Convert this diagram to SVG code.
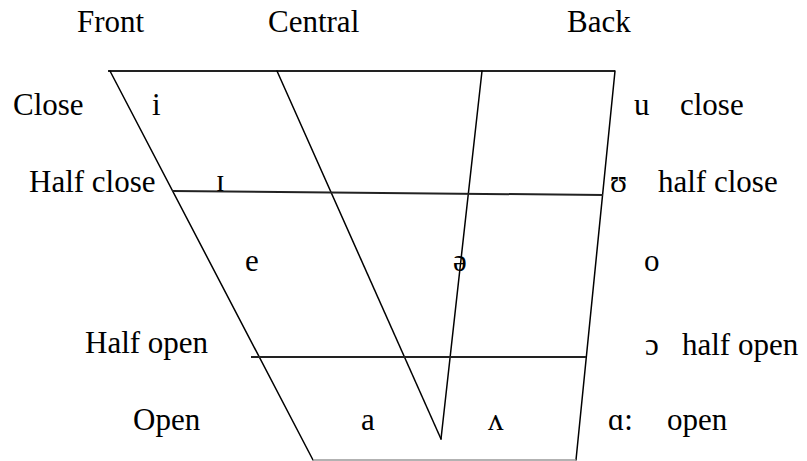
<svg xmlns="http://www.w3.org/2000/svg" width="807" height="461" viewBox="0 0 807 461">
<style>
.ln{stroke:#000;stroke-width:1.5;fill:none;stroke-linecap:round}
.hz{stroke:#222;stroke-width:2;fill:none}
.bt{stroke:#999;stroke-width:1.5;fill:none}
</style>
<rect width="807" height="461" fill="#fff"/>
<g id="connectors">
<line class="hz" x1="108" y1="71" x2="615" y2="71"/>
<line class="ln" x1="110" y1="71" x2="313" y2="460"/>
<line class="ln" x1="277" y1="71" x2="441" y2="439"/>
<line class="ln" x1="482" y1="71" x2="441" y2="439"/>
<line class="ln" x1="615" y1="71" x2="576" y2="460"/>
<line class="hz" x1="172" y1="191" x2="603" y2="195"/>
<line class="hz" x1="251" y1="357" x2="586" y2="357"/>
<line class="bt" x1="313" y1="460" x2="576" y2="460"/>
</g>
<g font-family="'Liberation Serif', 'Times New Roman', 'DejaVu Serif', serif" font-size="31" fill="#000">
<g id="headers">
<text x="77" y="32">Front</text>
<text x="268" y="32">Central</text>
<text x="567" y="32">Back</text>
</g>
<g id="row-close">
<text x="13" y="115">Close</text>
<text x="152" y="115">i</text>
<text x="634" y="115">u</text>
<text x="680" y="115">close</text>
</g>
<g id="row-half-close">
<text x="29" y="192">Half close</text>
<text x="216" y="191">ɪ</text>
<text x="610" y="192">ʊ</text>
<text x="658" y="192">half close</text>
</g>
<g id="row-mid">
<text x="245" y="271">e</text>
<text x="453" y="271">ə</text>
<text x="644" y="271">o</text>
</g>
<g id="row-half-open">
<text x="85" y="353">Half open</text>
<text x="645" y="355">ɔ</text>
<text x="682" y="355">half open</text>
</g>
<g id="row-open">
<text x="133" y="430">Open</text>
<text x="361" y="430">a</text>
<text x="488" y="430">ʌ</text>
<text x="608" y="430">ɑ:</text>
<text x="667" y="430">open</text>
</g>
</g>
</svg>
